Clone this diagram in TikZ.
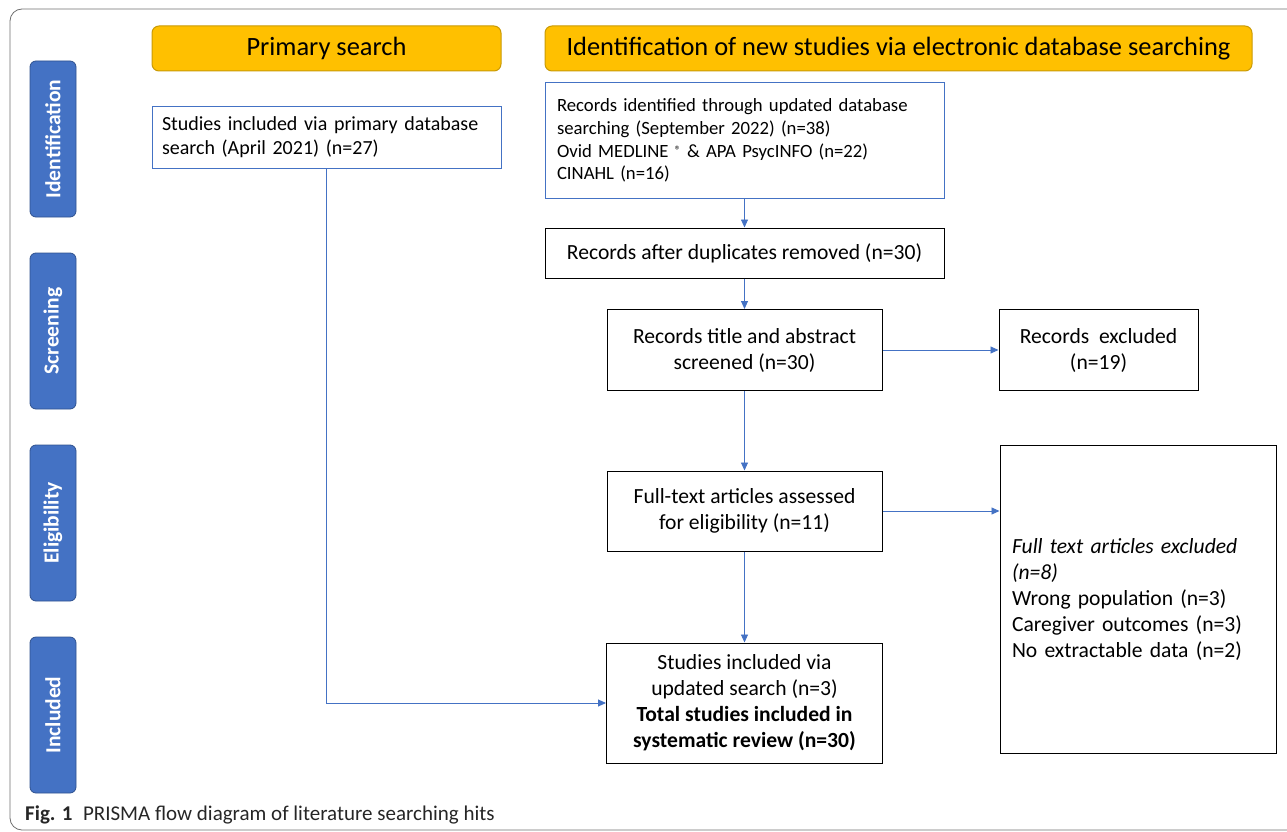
\documentclass[tikz,border=0pt]{standalone}
\usepackage{fontspec}
\setmainfont{Carlito}
\usetikzlibrary{arrows.meta}
\definecolor{sideblue}{HTML}{4472C4}
\definecolor{sideedge}{HTML}{2F528F}
\definecolor{headgold}{HTML}{FFC000}
\definecolor{headedge}{HTML}{C99A06}
\definecolor{framegray}{HTML}{6E6E6E}
\begin{document}
\begin{tikzpicture}[x=1pt,y=-1pt,
  every node/.style={inner sep=0pt},
  box/.style={draw=black,line width=1pt,align=center,font=\fontsize{21.6}{26}\selectfont},
  bluebox/.style={draw=sideblue,line width=1pt,align=left,font=\fontsize{20}{24}\selectfont},
  header/.style={draw=headedge,fill=headgold,line width=1pt,rounded corners=7pt,font=\fontsize{26.4}{30}\selectfont,minimum height=45pt},
  side/.style={draw=sideedge,fill=sideblue,line width=0.8pt,rounded corners=6pt,text=white,
    font=\bfseries\fontsize{21.5}{24}\selectfont,rotate=90,minimum width=156pt,minimum height=46pt},
  flow/.style={draw=sideblue,line width=0.9pt,-{Triangle[length=8pt,width=7pt]}}]
\useasboundingbox (0,0) rectangle (1287,832);
\draw[framegray,line width=0.8pt,rounded corners=12pt] (10,9) rectangle (1320,830);

\node[header,minimum width=349pt](primhead) at (326.5,48.5) {Primary search};
\node[header,minimum width=707pt](newhead) at (898.5,48.5) {Identification of new studies via electronic database searching};

\node[side](sideid) at (53,139) {Identification};
\node[side](sidescr) at (53,331) {Screening};
\node[side](sideelig) at (53,523) {Eligibility};
\node[side](sideincl) at (53,715) {Included};

\node[bluebox,minimum width=349pt,minimum height=61pt,text width=329pt](primbox) at (326.5,137.5)
  {Studies included via primary database\\search (April 2021) (n=27)};
\node[bluebox,minimum width=399pt,minimum height=115pt,text width=375pt,font=\fontsize{18.7}{22.7}\selectfont](recid) at (744.5,140.5)
  {Records identified through updated database\\searching (September 2022) (n=38)\\Ovid MEDLINE {\fontsize{12}{12}\selectfont\raisebox{0.45ex}{\textregistered}} \& APA PsycINFO (n=22)\\CINAHL (n=16)};
\node[box,minimum width=399pt,minimum height=50pt](dupbox) at (744.5,253) {Records after duplicates removed (n=30)};
\node[box,minimum width=275pt,minimum height=81pt](screenbox) at (744.5,350) {Records title and abstract\\screened (n=30)};
\node[box,minimum width=199pt,minimum height=81pt](exclbox) at (1098.5,350) {Records~~excluded\\(n=19)};
\node[box,minimum width=275pt,minimum height=80pt](fullbox) at (744.5,511) {Full-text articles assessed\\for eligibility (n=11)};
\node[box,minimum width=276pt,minimum height=308pt,align=left,text width=252pt](fullexcl) at (1138,599)
  {\textit{Full text articles excluded}\\\textit{(n=8)}\\Wrong population (n=3)\\Caregiver outcomes (n=3)\\No extractable data (n=2)};
\node[box,minimum width=276pt,minimum height=120pt](inclbox) at (744.5,703)
  {Studies included via\\updated search (n=3)\\\textbf{Total studies included in}\\\textbf{systematic review (n=30)}};

\draw[flow] (recid)--(dupbox); \draw[flow] (dupbox)--(screenbox);
\draw[flow] (screenbox)--(fullbox); \draw[flow] (fullbox)--(inclbox);
\draw[flow] (screenbox)--(exclbox); \draw[flow] (fullbox.east)--(fullbox.east-|fullexcl.west);
\draw[flow] (primbox.south)|-(inclbox.west);

\node[anchor=base west,text=black!85,font=\fontsize{21}{24}\selectfont](caption) at (25,820)
  {\textbf{Fig. 1}\enspace PRISMA flow diagram of literature searching hits};
\end{tikzpicture}
\end{document}
